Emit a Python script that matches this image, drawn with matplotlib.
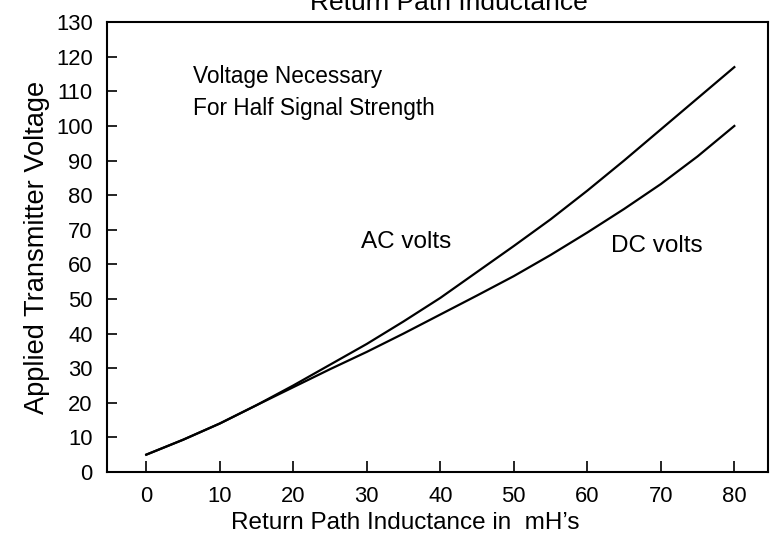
import matplotlib
matplotlib.use("Agg")
from matplotlib import pyplot as plt

# values
inductance = [0, 5, 10, 15, 20, 25, 30, 35, 40, 45, 50, 55, 60, 65, 70, 75, 80]
ac_volts = [5, 9.3, 14, 19.3, 25, 31, 37, 43.5, 50.3, 57.8, 65.3, 73, 81.3, 90, 99, 108, 117]
dc_volts = [5, 9.3, 14, 19.3, 24.5, 29.7, 34.7, 40, 45.5, 51, 56.6, 62.7, 69.2, 76, 83.2, 91.2, 100]
x_ticks = [0, 10, 20, 30, 40, 50, 60, 70, 80]
y_ticks = list(range(0, 131, 10))

plt.rcParams["font.family"] = ["Liberation Sans", "DejaVu Sans"]

fig = plt.figure(figsize=(7.72, 5.40), dpi=100)
ax = fig.add_axes([0.139, 0.126, 0.856, 0.833])

ax.plot(inductance, ac_volts, color="black", lw=1.6)
ax.plot(inductance, dc_volts, color="black", lw=1.6)

ax.set_xlim(-5.3, 84.6)
ax.set_ylim(0, 130)
ax.set_xticks(x_ticks)
ax.set_yticks(y_ticks)
ax.tick_params(axis="both", direction="in", labelsize=15.8, width=1.2)
ax.tick_params(axis="x", length=8, pad=10)
ax.tick_params(axis="y", length=7, pad=10.5)
for s in ax.spines.values():
    s.set_linewidth(1.5)

ax.set_xlabel("Return Path Inductance in  mH\u2019s", fontsize=17.5)
ax.set_ylabel("Applied Transmitter Voltage", fontsize=19.6)
ax.xaxis.set_label_coords(0.451, -0.089)
ax.yaxis.set_label_coords(-0.087, 0.499)

ax.text(6.4, 112.4, "Voltage Necessary", fontsize=16.3, va="baseline")
ax.text(6.4, 103.1, "For Half Signal Strength", fontsize=16.3, va="baseline")
ax.text(29.2, 64.7, "AC volts", fontsize=17.5, va="baseline")
ax.text(63.2, 63.6, "DC volts", fontsize=17.5, va="baseline")

fig.text(0.581, 0.9815, "Return Path Inductance", fontsize=19, ha="center", va="baseline")

fig.savefig("out.png", dpi=100)
